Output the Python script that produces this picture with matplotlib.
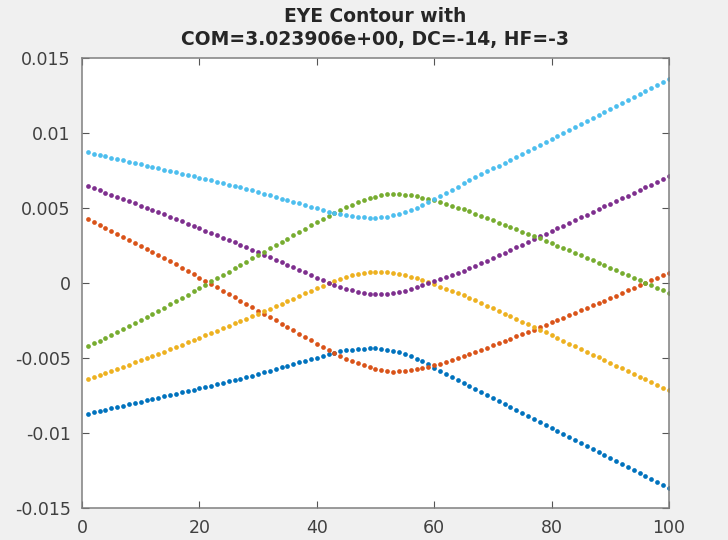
import numpy as np
import matplotlib.pyplot as plt

# sample index (1..100)
x = np.arange(1, 101)

# curve values, in units of 1e-3
blue_vals = [
    -8.71, -8.62, -8.53, -8.44, -8.35, -8.27, -8.18, -8.09, -8.00, -7.92,
    -7.83, -7.74, -7.65, -7.56, -7.47, -7.38, -7.29, -7.20, -7.11, -7.02,
    -6.93, -6.84, -6.75, -6.66, -6.56, -6.47, -6.37, -6.27, -6.17, -6.06,
    -5.96, -5.85, -5.74, -5.63, -5.52, -5.41, -5.30, -5.19, -5.08, -4.97,
    -4.85, -4.74, -4.64, -4.56, -4.49, -4.44, -4.40, -4.37, -4.35, -4.36,
    -4.39, -4.44, -4.52, -4.62, -4.74, -4.88, -5.04, -5.23, -5.43, -5.64,
    -5.85, -6.06, -6.26, -6.47, -6.67, -6.87, -7.07, -7.27, -7.47, -7.67,
    -7.87, -8.07, -8.27, -8.47, -8.67, -8.87, -9.07, -9.27, -9.46, -9.66,
    -9.86, -10.06, -10.26, -10.46, -10.66, -10.86, -11.05, -11.25, -11.45, -11.65,
    -11.85, -12.05, -12.25, -12.45, -12.64, -12.84, -13.04, -13.24, -13.44, -13.64,
]
orange_vals = [
    4.25, 4.06, 3.87, 3.68, 3.48, 3.29, 3.09, 2.89, 2.69, 2.49,
    2.29, 2.08, 1.87, 1.66, 1.45, 1.24, 1.02, 0.80, 0.58, 0.36,
    0.14, -0.08, -0.30, -0.52, -0.74, -0.96, -1.18, -1.40, -1.62, -1.84,
    -2.06, -2.28, -2.50, -2.72, -2.94, -3.16, -3.38, -3.60, -3.82, -4.04,
    -4.26, -4.47, -4.67, -4.86, -5.04, -5.20, -5.35, -5.49, -5.62, -5.73,
    -5.82, -5.88, -5.91, -5.90, -5.87, -5.82, -5.75, -5.67, -5.58, -5.48,
    -5.37, -5.25, -5.13, -5.01, -4.88, -4.75, -4.61, -4.46, -4.31, -4.16,
    -4.01, -3.86, -3.71, -3.56, -3.41, -3.26, -3.11, -2.95, -2.79, -2.63,
    -2.47, -2.31, -2.15, -1.99, -1.83, -1.67, -1.50, -1.34, -1.17, -1.00,
    -0.84, -0.67, -0.50, -0.33, -0.16, 0.00, 0.17, 0.34, 0.51, 0.68,
]
yellow_vals = [
    -6.43, -6.29, -6.15, -6.01, -5.87, -5.72, -5.58, -5.44, -5.29, -5.15,
    -5.00, -4.86, -4.71, -4.57, -4.42, -4.27, -4.11, -3.96, -3.80, -3.65,
    -3.49, -3.33, -3.18, -3.02, -2.86, -2.70, -2.54, -2.38, -2.21, -2.05,
    -1.88, -1.72, -1.55, -1.38, -1.21, -1.04, -0.87, -0.70, -0.53, -0.36,
    -0.19, -0.03, 0.12, 0.26, 0.39, 0.50, 0.59, 0.66, 0.72, 0.75,
    0.76, 0.74, 0.69, 0.62, 0.53, 0.42, 0.30, 0.17, 0.04, -0.10,
    -0.24, -0.38, -0.53, -0.68, -0.83, -0.99, -1.16, -1.33, -1.51, -1.68,
    -1.86, -2.04, -2.22, -2.40, -2.58, -2.76, -2.94, -3.12, -3.30, -3.49,
    -3.67, -3.86, -4.04, -4.22, -4.41, -4.59, -4.78, -4.96, -5.14, -5.33,
    -5.51, -5.70, -5.88, -6.06, -6.25, -6.43, -6.62, -6.80, -6.98, -7.16,
]
purple_vals = [
    6.45, 6.31, 6.17, 6.02, 5.88, 5.73, 5.59, 5.45, 5.30, 5.16,
    5.01, 4.87, 4.72, 4.58, 4.43, 4.27, 4.12, 3.96, 3.81, 3.65,
    3.49, 3.34, 3.18, 3.02, 2.86, 2.70, 2.54, 2.38, 2.22, 2.05,
    1.89, 1.72, 1.55, 1.38, 1.21, 1.04, 0.87, 0.70, 0.53, 0.36,
    0.19, 0.03, -0.12, -0.26, -0.39, -0.50, -0.59, -0.66, -0.71, -0.74,
    -0.75, -0.73, -0.68, -0.61, -0.52, -0.41, -0.29, -0.16, -0.03, 0.10,
    0.24, 0.38, 0.53, 0.67, 0.82, 0.97, 1.14, 1.31, 1.49, 1.66,
    1.84, 2.02, 2.20, 2.38, 2.56, 2.74, 2.92, 3.10, 3.28, 3.46,
    3.65, 3.83, 4.01, 4.19, 4.37, 4.56, 4.74, 4.92, 5.10, 5.28,
    5.47, 5.65, 5.83, 6.01, 6.19, 6.38, 6.56, 6.74, 6.92, 7.10,
]
green_vals = [
    -4.22, -4.03, -3.84, -3.65, -3.46, -3.26, -3.07, -2.87, -2.67, -2.47,
    -2.27, -2.06, -1.85, -1.64, -1.43, -1.22, -1.00, -0.78, -0.56, -0.34,
    -0.12, 0.10, 0.32, 0.54, 0.76, 0.98, 1.20, 1.42, 1.64, 1.86,
    2.08, 2.30, 2.52, 2.74, 2.96, 3.18, 3.40, 3.62, 3.84, 4.06,
    4.28, 4.49, 4.69, 4.88, 5.06, 5.22, 5.37, 5.51, 5.64, 5.75,
    5.84, 5.90, 5.93, 5.92, 5.89, 5.84, 5.77, 5.69, 5.60, 5.50,
    5.39, 5.27, 5.15, 5.03, 4.90, 4.77, 4.63, 4.48, 4.33, 4.18,
    4.03, 3.88, 3.73, 3.58, 3.43, 3.28, 3.13, 2.97, 2.81, 2.65,
    2.49, 2.33, 2.17, 2.01, 1.85, 1.69, 1.52, 1.36, 1.19, 1.02,
    0.86, 0.69, 0.52, 0.35, 0.18, 0.02, -0.15, -0.32, -0.49, -0.66,
]
cyan_vals = [
    8.70, 8.61, 8.53, 8.44, 8.35, 8.26, 8.18, 8.09, 8.00, 7.91,
    7.83, 7.74, 7.65, 7.56, 7.47, 7.38, 7.29, 7.20, 7.11, 7.02,
    6.93, 6.84, 6.75, 6.66, 6.56, 6.47, 6.37, 6.27, 6.17, 6.06,
    5.96, 5.85, 5.74, 5.63, 5.52, 5.41, 5.30, 5.19, 5.08, 4.97,
    4.85, 4.74, 4.65, 4.57, 4.50, 4.45, 4.41, 4.38, 4.36, 4.36,
    4.38, 4.43, 4.50, 4.59, 4.71, 4.85, 5.01, 5.20, 5.40, 5.61,
    5.82, 6.03, 6.23, 6.43, 6.64, 6.84, 7.04, 7.24, 7.44, 7.64,
    7.83, 8.03, 8.23, 8.43, 8.63, 8.83, 9.03, 9.23, 9.42, 9.62,
    9.82, 10.02, 10.22, 10.42, 10.62, 10.82, 11.01, 11.21, 11.41, 11.61,
    11.81, 12.01, 12.21, 12.41, 12.60, 12.80, 13.00, 13.20, 13.40, 13.60,
]

series = [blue_vals, orange_vals, yellow_vals, purple_vals, green_vals, cyan_vals]
colors = ['#0072BD', '#D95319', '#EDB120', '#7E2F8E', '#77AC30', '#4DBEEE']

xticks = [0, 20, 40, 60, 80, 100]
yticks = [-0.015, -0.01, -0.005, 0, 0.005, 0.01, 0.015]
ytick_labels = ['-0.015', '-0.01', '-0.005', '0', '0.005', '0.01', '0.015']

fig = plt.figure(figsize=(7.28, 5.4), dpi=100, facecolor='#f0f0f0')
ax = fig.add_axes([0.1126, 0.0593, 0.8063, 0.8333])

for vals, c in zip(series, colors):
    ax.plot(x, np.array(vals) * 1e-3, 'o', ms=3.4, mew=0, color=c)

ax.set_xlim(0, 100)
ax.set_ylim(-0.015, 0.015)
ax.set_xticks(xticks)
ax.set_yticks(yticks)
ax.set_yticklabels(ytick_labels)
ax.tick_params(direction='in', top=True, right=True, length=5, width=0.8,
               color='#555555', labelcolor='#404040', labelsize=12.5, pad=8)
for sp in ax.spines.values():
    sp.set_color('#7f7f7f')
    sp.set_linewidth(1.1)

ax.set_title('EYE Contour with\nCOM=3.023906e+00, DC=-14, HF=-3',
             fontsize=13.5, fontweight='bold', color='#262626', pad=9.5, linespacing=1.25)

fig.savefig('out.png', dpi=100, facecolor=fig.get_facecolor())
